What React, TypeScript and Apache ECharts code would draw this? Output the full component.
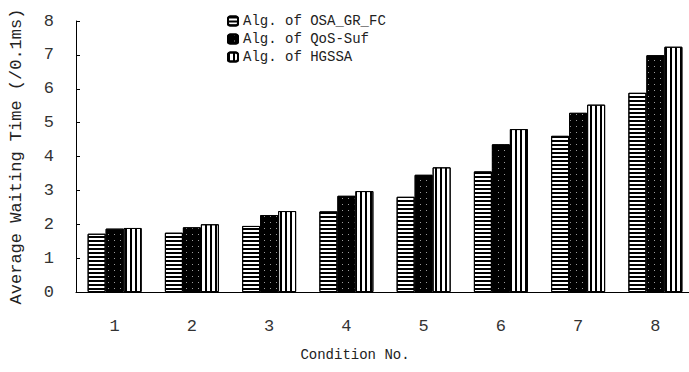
import React, { useEffect, useRef } from "react";
import * as echarts from "echarts";

const categories = ["1", "2", "3", "4", "5", "6", "7", "8"];
const seriesNames = ["Alg. of OSA_GR_FC", "Alg. of QoS-Suf", "Alg. of HGSSA"];
const osaValues = [1.72, 1.75, 1.95, 2.38, 2.81, 3.56, 4.61, 5.88];
const qosValues = [1.87, 1.91, 2.27, 2.84, 3.46, 4.36, 5.29, 6.99];
const hgssaValues = [1.89, 2.0, 2.39, 2.98, 3.68, 4.81, 5.53, 7.24];
const yTicks = [0, 1, 2, 3, 4, 5, 6, 7, 8];

const FONT = "'Liberation Mono', 'DejaVu Sans Mono', monospace";

export default function App() {
  const ref = useRef<HTMLDivElement>(null);
  useEffect(() => {
    if (!ref.current) return;
    const chart = echarts.init(ref.current, undefined, { renderer: "svg" });
    const border = { borderColor: "#000", borderWidth: 1 };
    chart.setOption({
      animation: false,
      backgroundColor: "#fff",
      legend: {
        orient: "vertical",
        left: 222,
        top: 9,
        itemWidth: 10,
        itemHeight: 9,
        itemGap: 4,
        data: seriesNames,
        textStyle: { fontFamily: FONT, fontSize: 14, color: "#222", lineHeight: 14 },
      },
      grid: { left: 76, right: -5, top: 21, bottom: 80, outerBoundsMode: "none", containLabel: false },
      xAxis: {
        type: "category",
        data: categories,
        name: "Condition No.",
        nameLocation: "middle",
        nameGap: 56,
        nameTextStyle: { fontFamily: FONT, fontSize: 14, color: "#222", padding: [0, 60, 0, 0] },
        axisLine: { lineStyle: { color: "#000", width: 1 } },
        axisTick: { inside: true, length: 4, lineStyle: { color: "#000" } },
        axisLabel: { fontFamily: FONT, fontSize: 17, color: "#333", margin: 26 },
        splitLine: { show: false },
      },
      yAxis: {
        type: "value",
        min: yTicks[0],
        max: yTicks[yTicks.length - 1],
        interval: 1,
        name: "Average Waiting Time (/0.1ms)",
        nameLocation: "middle",
        nameGap: 51,
        nameTextStyle: { fontFamily: FONT, fontSize: 17, color: "#222" },
        axisLine: { show: true, lineStyle: { color: "#000", width: 1 } },
        axisTick: { show: true, inside: true, length: 4, lineStyle: { color: "#000" } },
        axisLabel: { fontFamily: FONT, fontSize: 17, color: "#333", margin: 22 },
        splitLine: { show: false },
      },
      series: [
        {
          name: seriesNames[0],
          type: "bar",
          data: osaValues,
          barWidth: 18,
          barGap: "0%",
          itemStyle: {
            color: "#fff",
            ...border,
            decal: {
              symbol: "rect",
              symbolSize: 1,
              color: "#000",
              dashArrayX: [1, 0],
              dashArrayY: [1.5, 2],
              rotation: 0,
            },
          },
        },
        {
          name: seriesNames[1],
          type: "bar",
          data: qosValues,
          barWidth: 18,
          barGap: "0%",
          itemStyle: {
            color: "#000",
            ...border,
            decal: {
              symbol: "rect",
              symbolSize: 1,
              color: "#9a9a9a",
              dashArrayX: [1, 5],
              dashArrayY: [1, 5],
              rotation: 0,
            },
          },
        },
        {
          name: seriesNames[2],
          type: "bar",
          data: hgssaValues,
          barWidth: 18,
          barGap: "0%",
          itemStyle: {
            color: "#fff",
            ...border,
            decal: {
              symbol: "rect",
              symbolSize: 1,
              color: "#000",
              dashArrayX: [2, 2.5],
              dashArrayY: [1, 0],
              rotation: 0,
            },
          },
        },
      ],
    });
    return () => chart.dispose();
  }, []);
  return (
    <div
      ref={ref}
      style={{ position: "fixed", left: 0, top: 0, width: 689, height: 372, background: "#fff" }}
    />
  );
}
